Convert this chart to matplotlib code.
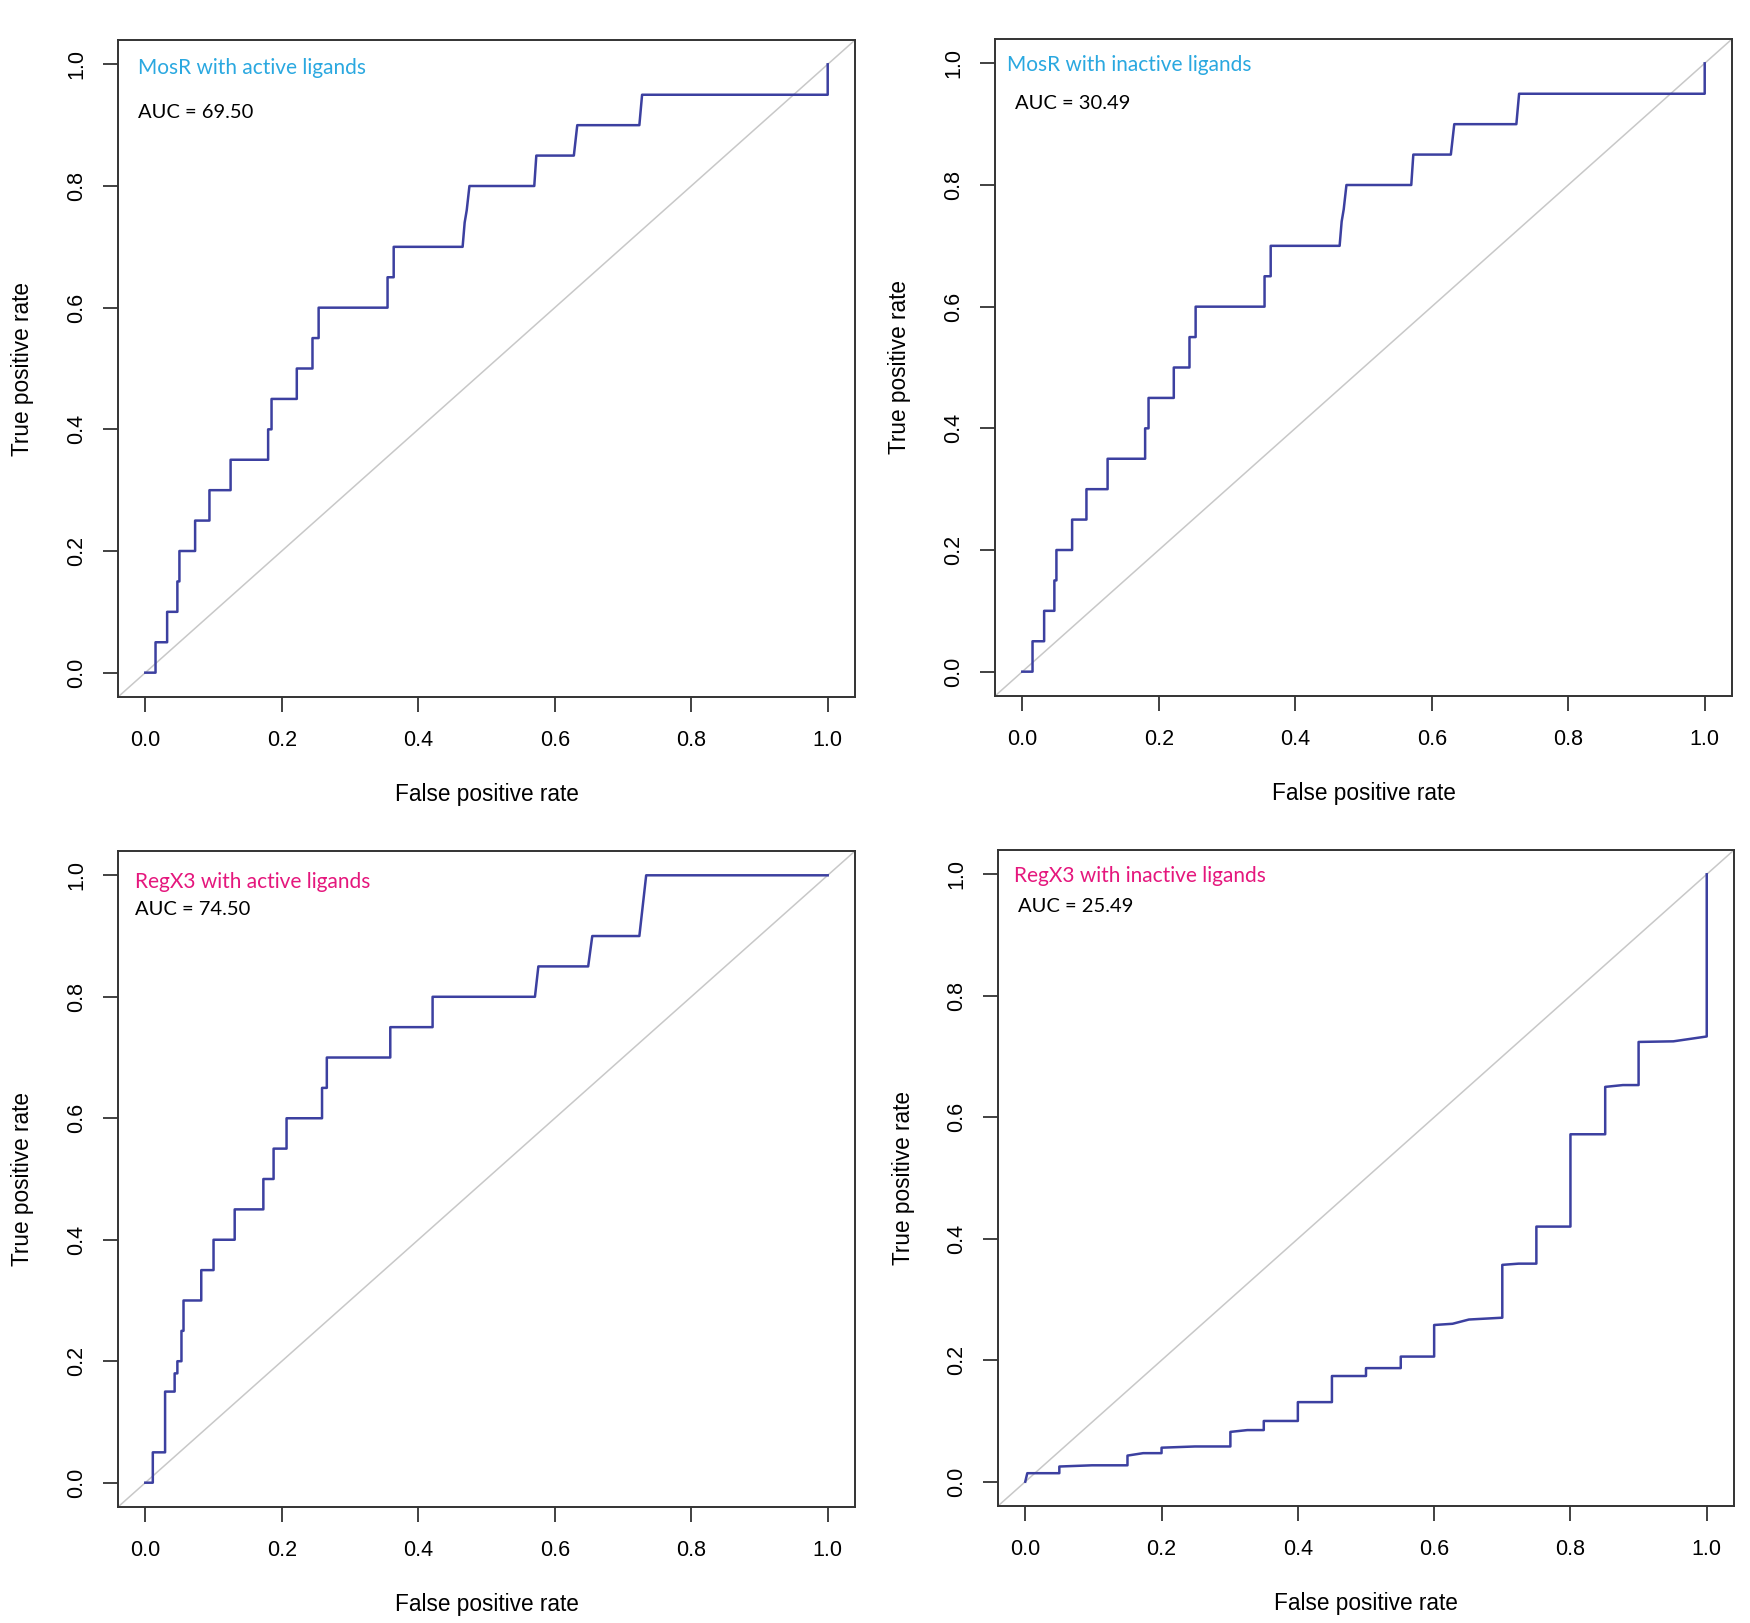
import matplotlib
matplotlib.use("Agg")
import matplotlib.pyplot as plt

# ROC step vertices
mosr_active_fpr = [0, 0.015, 0.015, 0.032, 0.032, 0.047, 0.047, 0.050, 0.050, 0.073, 0.073, 0.094, 0.094,
                   0.125, 0.125, 0.180, 0.180, 0.185, 0.185, 0.222, 0.222, 0.245, 0.245, 0.254, 0.254,
                   0.355, 0.355, 0.364, 0.364, 0.465, 0.468, 0.471, 0.475, 0.570, 0.573, 0.628, 0.633,
                   0.724, 0.728, 1.0, 1.0]
mosr_active_tpr = [0, 0, 0.05, 0.05, 0.10, 0.10, 0.15, 0.15, 0.20, 0.20, 0.25, 0.25, 0.30,
                   0.30, 0.35, 0.35, 0.40, 0.40, 0.45, 0.45, 0.50, 0.50, 0.55, 0.55, 0.60,
                   0.60, 0.65, 0.65, 0.70, 0.70, 0.74, 0.76, 0.80, 0.80, 0.85, 0.85, 0.90,
                   0.90, 0.95, 0.95, 1.0]

mosr_inactive_fpr = [0, 0.015, 0.015, 0.032, 0.032, 0.047, 0.047, 0.050, 0.050, 0.073, 0.073, 0.094, 0.094,
                     0.125, 0.125, 0.180, 0.180, 0.185, 0.185, 0.222, 0.222, 0.245, 0.245, 0.254, 0.254,
                     0.355, 0.355, 0.364, 0.364, 0.465, 0.468, 0.471, 0.475, 0.570, 0.573, 0.628, 0.633,
                     0.724, 0.728, 1.0, 1.0]
mosr_inactive_tpr = [0, 0, 0.05, 0.05, 0.10, 0.10, 0.15, 0.15, 0.20, 0.20, 0.25, 0.25, 0.30,
                     0.30, 0.35, 0.35, 0.40, 0.40, 0.45, 0.45, 0.50, 0.50, 0.55, 0.55, 0.60,
                     0.60, 0.65, 0.65, 0.70, 0.70, 0.74, 0.76, 0.80, 0.80, 0.85, 0.85, 0.90,
                     0.90, 0.95, 0.95, 1.0]

regx3_active_fpr = [0, 0.011, 0.011, 0.029, 0.029, 0.043, 0.043, 0.047, 0.047, 0.053, 0.053, 0.056, 0.056,
                    0.082, 0.082, 0.100, 0.100, 0.131, 0.131, 0.173, 0.173, 0.188, 0.188, 0.207, 0.207,
                    0.259, 0.259, 0.266, 0.266, 0.359, 0.359, 0.421, 0.421, 0.571, 0.576, 0.649, 0.655,
                    0.724, 0.727, 0.730, 0.734, 1.0]
regx3_active_tpr = [0, 0, 0.05, 0.05, 0.15, 0.15, 0.18, 0.18, 0.20, 0.20, 0.25, 0.25, 0.30,
                    0.30, 0.35, 0.35, 0.40, 0.40, 0.45, 0.45, 0.50, 0.50, 0.55, 0.55, 0.60,
                    0.60, 0.65, 0.65, 0.70, 0.70, 0.75, 0.75, 0.80, 0.80, 0.85, 0.85, 0.90,
                    0.90, 0.93, 0.96, 1.0, 1.0]

regx3_inactive_fpr = [0, 0.003, 0.05, 0.05, 0.098, 0.15, 0.15, 0.173, 0.20, 0.20, 0.249, 0.301, 0.301,
                      0.326, 0.35, 0.35, 0.40, 0.40, 0.45, 0.45, 0.50, 0.50, 0.551, 0.551, 0.60, 0.60,
                      0.627, 0.651, 0.70, 0.70, 0.724, 0.75, 0.75, 0.80, 0.80, 0.851, 0.851, 0.877,
                      0.90, 0.90, 0.951, 1.0, 1.0]
regx3_inactive_tpr = [0, 0.014, 0.014, 0.025, 0.027, 0.027, 0.043, 0.047, 0.047, 0.056, 0.058, 0.058, 0.082,
                      0.085, 0.085, 0.10, 0.10, 0.131, 0.131, 0.174, 0.174, 0.187, 0.187, 0.206, 0.206, 0.258,
                      0.26, 0.267, 0.27, 0.357, 0.359, 0.359, 0.42, 0.42, 0.572, 0.572, 0.65, 0.653,
                      0.653, 0.724, 0.725, 0.733, 1.0]

titles = ["MosR with active ligands", "MosR with inactive ligands",
          "RegX3 with active ligands", "RegX3 with inactive ligands"]
auc_values = ["69.50", "30.49", "74.50", "25.49"]
ticks = [0.0, 0.2, 0.4, 0.6, 0.8, 1.0]
tick_labels = ["0.0", "0.2", "0.4", "0.6", "0.8", "1.0"]

curves = [(mosr_active_fpr, mosr_active_tpr), (mosr_inactive_fpr, mosr_inactive_tpr),
          (regx3_active_fpr, regx3_active_tpr), (regx3_inactive_fpr, regx3_inactive_tpr)]
title_colors = ["#2aa8e0", "#2aa8e0", "#e5177d", "#e5177d"]

W, H = 1750, 1623
# axes boxes in pixels: left, top, width, height
boxes = [(118, 40, 737, 657), (995, 39, 737, 657), (118, 851, 737, 656), (998, 850, 736, 656)]
title_pos = [(0.027, 0.948), (0.016, 0.951), (0.023, 0.944), (0.022, 0.951)]
auc_pos = [(0.027, 0.882), (0.027, 0.893), (0.023, 0.903), (0.027, 0.905)]

plt.rcParams['font.family'] = ['Liberation Sans', 'DejaVu Sans']
fig = plt.figure(figsize=(W / 100, H / 100), dpi=100)

for i in range(4):
    l, t, w, h = boxes[i]
    ax = fig.add_axes([l / W, 1 - (t + h) / H, w / W, h / H])
    fpr, tpr = curves[i]
    ax.axline((0, 0), (1, 1), color="#c8c8c8", lw=1.1, zorder=1)
    ax.plot(fpr, tpr, color="#3c40a0", lw=1.8, zorder=2)
    ax.set_xlim(-0.04, 1.04)
    ax.set_ylim(-0.04, 1.04)
    ax.set_xticks(ticks)
    ax.set_xticklabels(tick_labels)
    ax.set_yticks(ticks)
    ax.set_yticklabels(tick_labels, rotation=90, va="center")
    ax.tick_params(direction="out", length=11, width=1.3, color="#333333",
                   labelsize=15.5, pad=13)
    ax.tick_params(axis="y", pad=11)
    for s in ax.spines.values():
        s.set_color("#333333")
        s.set_linewidth(1.4)
    ax.set_xlabel("False positive rate", fontsize=16.3, va="center")
    ax.xaxis.set_label_coords(0.5, -0.149)
    ax.set_ylabel("True positive rate", fontsize=16.3, va="center")
    ax.yaxis.set_label_coords(-0.129, 0.5)
    ax.text(title_pos[i][0], title_pos[i][1], titles[i], transform=ax.transAxes,
            color=title_colors[i], fontsize=15, family=["Lato", "DejaVu Sans"],
            ha="left", va="baseline")
    ax.text(auc_pos[i][0], auc_pos[i][1], "AUC = " + auc_values[i], transform=ax.transAxes,
            color="black", fontsize=14.5, family=["Lato", "DejaVu Sans"],
            ha="left", va="baseline")

fig.savefig("out.png", dpi=100, facecolor="white")
